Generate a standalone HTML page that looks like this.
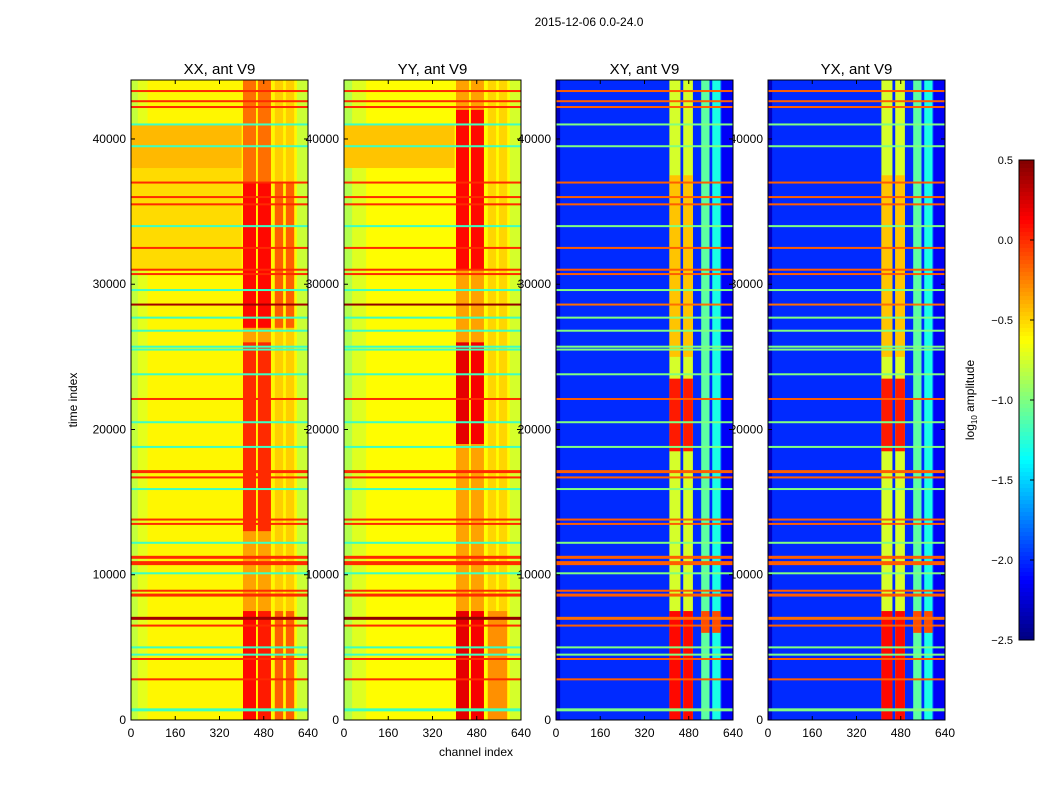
<!DOCTYPE html>
<html><head><meta charset="utf-8">
<style>
body{margin:0;background:#fff;font-family:"Liberation Sans",sans-serif;}
svg text{font-family:"Liberation Sans",sans-serif;fill:#000;}
</style></head>
<body>
<svg id="chart" width="1050" height="800" xmlns="http://www.w3.org/2000/svg">
<rect width="1050" height="800" fill="#fff"/>
<text x="589" y="26" font-size="12" text-anchor="middle">2015-12-06 0.0-24.0</text>
<text x="476" y="756" font-size="12" text-anchor="middle">channel index</text>
<text transform="translate(77,400) rotate(-90)" font-size="12" text-anchor="middle">time index</text>
<text transform="translate(974,400) rotate(-90)" font-size="12" text-anchor="middle">log<tspan font-size="8" dy="3">10</tspan><tspan dy="-3"> amplitude</tspan></text>
<g id="under"></g>
<g id="panels"></g>
<g id="cbar"></g>
</svg>
<script>
const panelTitles = ["XX, ant V9","YY, ant V9","XY, ant V9","YX, ant V9"];
const panelLeft = [131,344,556,768];
const xTicks = [0,160,320,480,640];
const yTicks = [0,10000,20000,30000,40000];
const cbarTicks = [0.5,0.0,-0.5,-1.0,-1.5,-2.0,-2.5];
const bgValues = [-0.6,-0.62,-2.0,-2.0];
// regions per panel: [c0,c1,t0,t1,value]
const regionsXX = [[0,25,0,44060,-0.8],[25,60,0,44060,-0.7],[600,640,0,44060,-0.78],
 [0,400,31000,38000,-0.52],[0,400,38000,41000,-0.42],
 [405,452,0,44060,-0.35],[459,506,0,44060,-0.35],[520,550,0,44060,-0.48],[560,590,0,44060,-0.48],
 [405,452,0,7500,0.1],[459,506,0,7500,0.05],[520,550,0,7500,-0.15],[560,590,0,7500,-0.15],
 [405,452,13000,26000,0.0],[459,506,13000,26000,0.0],
 [405,452,27000,37000,0.1],[459,506,27000,37000,0.1],[520,550,27000,37000,-0.15],[560,590,27000,37000,-0.15],
 [405,452,37000,44060,-0.2],[459,506,37000,44060,-0.2]];
const regionsYY = [[0,30,0,44060,-0.85],[30,80,0,44060,-0.72],[600,640,0,44060,-0.75],
 [0,400,38000,41000,-0.45],
 [405,452,0,44060,-0.35],[459,506,0,44060,-0.35],[520,550,0,44060,-0.5],[560,590,0,44060,-0.5],
 [405,452,0,7500,0.2],[459,506,0,7500,0.15],[520,590,0,7500,-0.3],
 [405,452,19000,26000,0.2],[459,506,19000,26000,0.15],
 [405,452,31000,42000,0.1],[459,506,31000,42000,0.1]];
const regionsXY = [[0,15,0,44060,-2.3],[600,640,0,44060,-2.15],
 [410,450,0,44060,-0.75],[460,495,0,44060,-0.75],[525,555,0,44060,-1.1],[565,595,0,44060,-1.3],
 [410,450,0,7500,0.1],[460,495,0,7500,0.1],[525,555,6000,7500,-0.1],[565,595,6000,7500,-0.1],
 [410,450,18500,23500,0.05],[460,495,18500,23500,0.05],
 [410,450,25000,37500,-0.45],[460,495,25000,37500,-0.45]];
const regionsYX = regionsXY;
// horizontal lines: time, kind (0=red,1=cyan,2=dark), thickness px
const lineTimes = [43300,42600,42200,41000,39500,37000,36000,35500,34000,32500,31000,30700,29600,28600,27700,26800,25700,25500,23800,22100,20500,18800,17100,16700,15900,13800,13500,12200,11200,10800,10100,8900,8600,7000,6500,5000,4500,4200,2800,700];
const lineKinds = [0,0,0,1,1,0,0,0,1,0,0,0,1,2,1,1,1,1,1,0,1,1,0,0,1,0,0,1,0,0,1,0,0,2,0,1,1,0,0,1];
const lineWidths = [2,2,2,2,2,2,2,2,2,2,2,2,2,2,2,2,2,2,2,2,2,2,3,2,2,2,2,2,3,4,2,2,3,3,2,2,2,2,2,3];
const lineVals = [[0.0,-1.2,0.4],[0.0,-1.2,0.45],[-0.15,-1.0,-0.2],[-0.15,-1.0,-0.2]];

const plotTop=80, plotBot=720, tMax=44060, chMax=640, pw=177;
function yScale(t){return plotBot-(t/tMax)*(plotBot-plotTop);}
function xScale(p,c){return panelLeft[p]+c/chMax*pw;}
function jet(v){
  let x=(v+2.5)/3; x=Math.max(0,Math.min(1,x));
  const f=(a)=>Math.max(0,Math.min(1,1.5-Math.abs(4*x-a)));
  return `rgb(${Math.round(255*f(3))},${Math.round(255*f(2))},${Math.round(255*f(1))})`;
}
const NS="http://www.w3.org/2000/svg";
function mk(tag,attrs,parent){const e=document.createElementNS(NS,tag);for(const k in attrs)e.setAttribute(k,attrs[k]);parent.appendChild(e);return e;}
const G=document.getElementById('panels');
const U=document.getElementById('under');
const allRegions=[regionsXX,regionsYY,regionsXY,regionsYX];
for(let p=0;p<4;p++){
  const g=mk('g',{},G);
  
  
  const lg=mk('g',{},p===3?U:g);
  
  
  const bg=mk('rect',{x:panelLeft[p],y:plotTop,width:pw,height:plotBot-plotTop,fill:jet(bgValues[p])},g);
  
  
  allRegions[p].forEach(b=>{
    const r=mk('rect',{x:xScale(p,b[0]),y:yScale(b[3]),width:xScale(p,b[1])-xScale(p,b[0]),height:yScale(b[2])-yScale(b[3]),fill:jet(b[4])},g);
    
    
  });
  lineTimes.forEach((t,i)=>{
    const k=lineKinds[i];
    const r=mk('rect',{x:panelLeft[p],y:yScale(t)-lineWidths[i]/2,width:pw,height:lineWidths[i],fill:jet(lineVals[p][k])},g);
    
    
  });
  const fr=mk('rect',{x:panelLeft[p],y:plotTop,width:pw,height:plotBot-plotTop,fill:'none',stroke:'#000','stroke-width':1},g);
  
  
  const tt=mk('text',{x:panelLeft[p]+pw/2,y:74,'font-size':15,'text-anchor':'middle'},g);
  tt.textContent=panelTitles[p];
  
  
  xTicks.forEach(c=>{
    const x=xScale(p,c);
    mk('line',{x1:x,x2:x,y1:plotBot,y2:plotBot-4,stroke:'#000'},g);
    mk('line',{x1:x,x2:x,y1:plotTop,y2:plotTop+4,stroke:'#000'},g);
    const l=mk('text',{x:x,y:plotBot+17,'font-size':12,'text-anchor':'middle'},g);
    l.textContent=c;
    
    
  });
  yTicks.forEach(t=>{
    const y=yScale(t);
    mk('line',{x1:panelLeft[p],x2:panelLeft[p]+4,y1:y,y2:y,stroke:'#000'},g);
    mk('line',{x1:panelLeft[p]+pw,x2:panelLeft[p]+pw-4,y1:y,y2:y,stroke:'#000'},g);
    const l=mk('text',{x:panelLeft[p]-5,y:y+4,'font-size':12,'text-anchor':'end'},lg);
    l.textContent=t;
    
    
  });
}
// colorbar
const C=document.getElementById('cbar');


const cx=1019,cw=15,cTop=160,cBot=640;
for(let i=0;i<120;i++){
  const v=0.5-3*(i+0.5)/120;
  mk('rect',{x:cx,y:cTop+i*4,width:cw,height:4.3,fill:jet(v)},C);
}
mk('rect',{x:cx,y:cTop,width:cw,height:cBot-cTop,fill:'none',stroke:'#000'},C);
cbarTicks.forEach(v=>{
  const y=cTop+(0.5-v)/3*(cBot-cTop);
  mk('line',{x1:cx+cw-4,x2:cx+cw,y1:y,y2:y,stroke:'#000'},C);
  const l=mk('text',{x:1013,y:y+4,'font-size':11,'text-anchor':'end'},C);
  l.textContent=v.toFixed(1).replace('-','\u2212');
  
  
});
</script>
</body></html>
